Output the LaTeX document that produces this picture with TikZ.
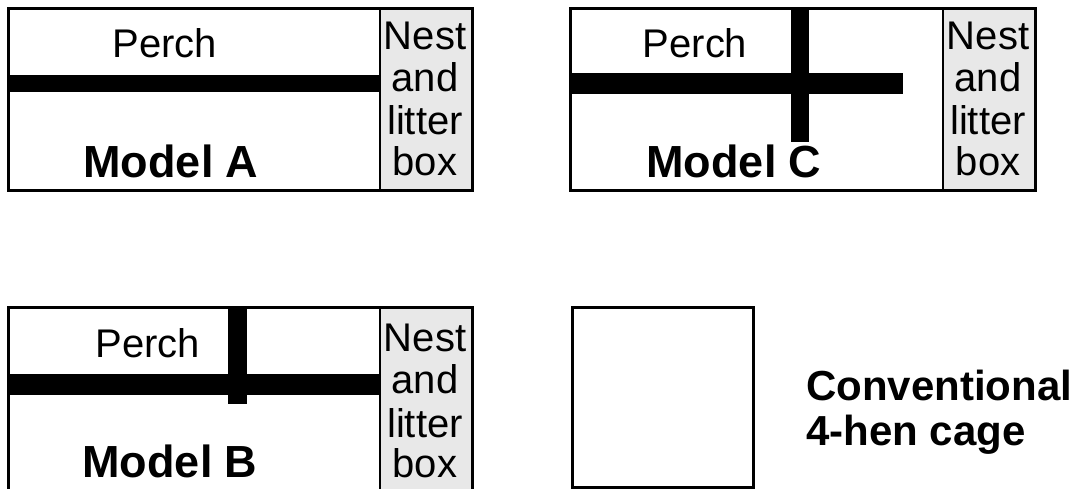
\documentclass[tikz,border=0pt]{standalone}
\usepackage{fontspec}
\setmainfont{Liberation Sans}
\begin{document}
\begin{tikzpicture}[x=1pt,y=-1pt,
  cage/.style={draw=black,line width=3pt,fill=white},
  nestbox/.style={draw=black,line width=2pt,fill=black!9},
  perchbar/.style={fill=black,draw=none},
  lbl/.style={anchor=base,inner sep=0pt,font=\fontsize{40}{42}\selectfont},
  title/.style={anchor=base,inner sep=0pt,font=\fontsize{45}{45}\bfseries\selectfont},
  convtxt/.style={anchor=base west,inner sep=0pt,font=\fontsize{42}{45}\bfseries\selectfont},
  nesttxt/.style={anchor=base,inner sep=0pt,font=\fontsize{40}{42}\selectfont}]
\useasboundingbox (0,0) rectangle (1077,489);

% ---- Model A ----
\draw[cage] (8.5,8.5) rectangle (472,190.5);
\draw[nestbox] (380,8.5) rectangle (472,190.5);
\draw[cage,fill=none] (8.5,8.5) rectangle (472,190.5);
\fill[perchbar] (8.5,75) rectangle (380,92);
\node[lbl] (perchA) at (165,58) {Perch};
\node[title] (modelA) at (171,178) {Model A};
\node[nesttxt] (nestA1) at (425,50) {Nest};
\node[nesttxt] (nestA2) at (425,92) {and};
\node[nesttxt] (nestA3) at (425,135) {litter};
\node[nesttxt] (nestA4) at (425,176) {box};

% ---- Model C ----
\draw[cage] (570,8.5) rectangle (1035,190.5);
\draw[nestbox] (943,8.5) rectangle (1035,190.5);
\draw[cage,fill=none] (570,8.5) rectangle (1035,190.5);
\fill[perchbar] (570,73) rectangle (903,94);
\fill[perchbar] (791,8.5) rectangle (809,142);
\node[lbl] (perchC) at (695,58) {Perch};
\node[title] (modelC) at (734,178) {Model C};
\node[nesttxt] (nestC1) at (988,50) {Nest};
\node[nesttxt] (nestC2) at (988,92) {and};
\node[nesttxt] (nestC3) at (988,135) {litter};
\node[nesttxt] (nestC4) at (988,176) {box};

% ---- Model B ----
\draw[cage] (8.5,307.5) rectangle (472,491);
\draw[nestbox] (380,307.5) rectangle (472,491);
\draw[cage,fill=none] (8.5,307.5) rectangle (472,491);
\fill[perchbar] (8.5,374) rectangle (380,395);
\fill[perchbar] (228,307.5) rectangle (247,404);
\node[lbl] (perchB) at (148,357) {Perch};
\node[title] (modelB) at (170,477) {Model B};
\node[nesttxt] (nestB1) at (425,352) {Nest};
\node[nesttxt] (nestB2) at (425,393) {and};
\node[nesttxt] (nestB3) at (425,437) {litter};
\node[nesttxt] (nestB4) at (425,477) {box};

% ---- Conventional cage ----
\draw[cage] (572,307.5) rectangle (753,487.5);
\node[convtxt] (conv1) at (806,400) {Conventional};
\node[convtxt] (conv2) at (806,445) {4-hen cage};
\end{tikzpicture}
\end{document}
